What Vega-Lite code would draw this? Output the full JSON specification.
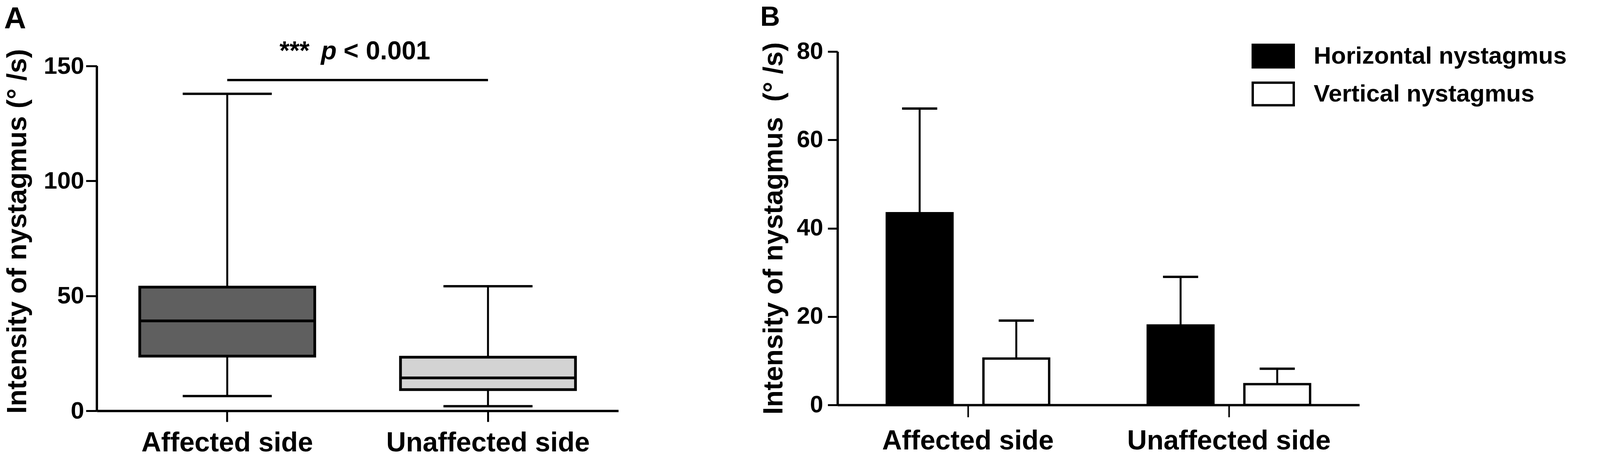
{
  "$schema": "https://vega.github.io/schema/vega-lite/v6.json",
  "description": "Intensity of nystagmus: box plot by side (A) and mean + SD bars by nystagmus type (B).",
  "background": "white",
  "padding": {"left": 10, "top": 10, "right": 0, "bottom": 0},
  "spacing": 363,
  "datasets": {
    "boxes": [
      {"side": "Affected side", "min": 6.4, "q1": 23.8, "median": 39.1, "q3": 53.8, "max": 137.9},
      {"side": "Unaffected side", "min": 2.0, "q1": 9.2, "median": 14.3, "q3": 23.3, "max": 54.2}
    ],
    "sig": [
      {"from": "Affected side", "to": "Unaffected side", "y": 143.9, "stars": "***", "p": "p", "rest": "< 0.001"}
    ],
    "bars": [
      {"side": "Affected side", "type": "Horizontal nystagmus", "mean": 43.4, "upper": 67.1},
      {"side": "Affected side", "type": "Vertical nystagmus", "mean": 10.5, "upper": 19.1},
      {"side": "Unaffected side", "type": "Horizontal nystagmus", "mean": 18.0, "upper": 29.0},
      {"side": "Unaffected side", "type": "Vertical nystagmus", "mean": 4.7, "upper": 8.2}
    ]
  },
  "resolve": {
    "scale": {"color": "independent", "fill": "independent"},
    "legend": {"color": "independent"}
  },
  "hconcat": [
    {
      "title": {"text": "A", "anchor": "start", "frame": "bounds", "fontSize": 78, "offset": 10},
      "width": 1335,
      "height": 920,
      "data": {"name": "boxes"},
      "encoding": {
        "x": {
          "field": "side",
          "type": "nominal",
          "scale": {"paddingInner": 0, "paddingOuter": 0},
          "axis": {
            "title": null,
            "labelAngle": 0,
            "labelFontSize": 70,
            "labelPadding": 20,
            "labelLimit": 1000,
            "tickSize": 28,
            "tickWidth": 5,
            "domainWidth": 6
          }
        }
      },
      "layer": [
        {
          "mark": {"type": "rule", "strokeWidth": 6, "color": "black"},
          "encoding": {
            "x": {"datum": "Affected side", "bandPosition": 0},
            "y": {"datum": 0, "type": "quantitative"},
            "y2": {"datum": 150}
          }
        },
        {
          "mark": {"type": "rule", "strokeWidth": 5, "color": "black"},
          "encoding": {
            "y": {
              "field": "min",
              "type": "quantitative",
              "scale": {"domain": [0, 156.3], "nice": false},
              "axis": {
                "title": "Intensity of nystagmus (° /s)",
                "values": [0, 50, 100, 150],
                "domain": false,
                "labelFontSize": 62,
                "labelPadding": 5,
                "tickSize": 28,
                "tickWidth": 5,
                "titleFontSize": 70,
                "titlePadding": 30
              }
            },
            "y2": {"field": "max"}
          }
        },
        {
          "mark": {"type": "bar", "size": 448, "stroke": "black", "strokeWidth": 7},
          "encoding": {
            "y": {"field": "q1", "type": "quantitative"},
            "y2": {"field": "q3"},
            "fill": {
              "field": "side",
              "type": "nominal",
              "scale": {"domain": ["Affected side", "Unaffected side"], "range": ["#5f5f5f", "#d3d3d3"]},
              "legend": null
            }
          }
        },
        {
          "mark": {"type": "tick", "size": 448, "thickness": 7, "color": "black", "opacity": 1},
          "encoding": {"y": {"field": "median", "type": "quantitative"}}
        },
        {
          "mark": {"type": "tick", "size": 228, "thickness": 6, "color": "black", "opacity": 1},
          "encoding": {"y": {"field": "min", "type": "quantitative"}}
        },
        {
          "mark": {"type": "tick", "size": 228, "thickness": 6, "color": "black", "opacity": 1},
          "encoding": {"y": {"field": "max", "type": "quantitative"}}
        },
        {
          "data": {"name": "sig"},
          "mark": {"type": "rule", "strokeWidth": 6, "color": "black"},
          "encoding": {
            "x": {"field": "from", "type": "nominal"},
            "x2": {"field": "to"},
            "y": {"field": "y", "type": "quantitative"}
          }
        },
        {
          "data": {"name": "sig"},
          "mark": {"type": "text", "align": "left", "baseline": "alphabetic", "dx": -200, "dy": -53, "fontSize": 66, "fontWeight": "bold"},
          "encoding": {
            "x": {"field": "from", "type": "nominal", "bandPosition": 1},
            "y": {"field": "y", "type": "quantitative"},
            "text": {"field": "stars"}
          }
        },
        {
          "data": {"name": "sig"},
          "mark": {"type": "text", "align": "left", "baseline": "alphabetic", "dx": -94, "dy": -53, "fontSize": 66, "fontWeight": "bold", "fontStyle": "italic"},
          "encoding": {
            "x": {"field": "from", "type": "nominal", "bandPosition": 1},
            "y": {"field": "y", "type": "quantitative"},
            "text": {"field": "p"}
          }
        },
        {
          "data": {"name": "sig"},
          "mark": {"type": "text", "align": "left", "baseline": "alphabetic", "dx": -36, "dy": -53, "fontSize": 66, "fontWeight": "bold"},
          "encoding": {
            "x": {"field": "from", "type": "nominal", "bandPosition": 1},
            "y": {"field": "y", "type": "quantitative"},
            "text": {"field": "rest"}
          }
        }
      ]
    },
    {
      "title": {"text": "B", "anchor": "start", "frame": "bounds", "fontSize": 70, "offset": 7},
      "width": 1336,
      "height": 905,
      "data": {"name": "bars"},
      "encoding": {
        "x": {
          "field": "side",
          "type": "nominal",
          "scale": {"paddingInner": 0, "paddingOuter": 0},
          "axis": {
            "title": null,
            "labelAngle": 0,
            "labelFontSize": 70,
            "labelPadding": 27,
            "labelLimit": 1000,
            "tickSize": 31,
            "tickWidth": 4,
            "domainWidth": 6
          }
        },
        "xOffset": {
          "field": "type",
          "type": "nominal",
          "scale": {"paddingInner": 0.32, "paddingOuter": 0.51}
        }
      },
      "layer": [
        {
          "mark": {"type": "bar", "stroke": "black", "strokeWidth": 6},
          "encoding": {
            "y": {
              "field": "mean",
              "type": "quantitative",
              "scale": {"domain": [0, 80], "nice": false},
              "axis": {
                "title": "Intensity of nystagmus\u00a0 (° /s)",
                "values": [0, 20, 40, 60, 80],
                "labelFontSize": 61,
                "labelPadding": 12,
                "tickSize": 25,
                "tickWidth": 5,
                "domainWidth": 6,
                "titleFontSize": 70,
                "titlePadding": 22
              }
            },
            "color": {
              "field": "type",
              "type": "nominal",
              "scale": {"domain": ["Horizontal nystagmus", "Vertical nystagmus"], "range": ["black", "white"]},
              "legend": {
                "title": null,
                "orient": "none",
                "legendX": 1060,
                "legendY": -44,
                "padding": 0,
                "rowPadding": 0,
                "symbolType": "M-1,-0.55H1V0.55H-1Z",
                "symbolSize": 11025,
                "symbolStrokeColor": "black",
                "symbolStrokeWidth": 6,
                "labelFontSize": 62,
                "labelOffset": 48,
                "labelLimit": 2000
              }
            }
          }
        },
        {
          "mark": {"type": "rule", "strokeWidth": 5, "color": "black"},
          "encoding": {
            "y": {"field": "mean", "type": "quantitative"},
            "y2": {"field": "upper"}
          }
        },
        {
          "mark": {"type": "tick", "size": 90, "thickness": 6, "color": "black", "opacity": 1},
          "encoding": {"y": {"field": "upper", "type": "quantitative"}}
        }
      ]
    }
  ],
  "config": {
    "view": {"stroke": null},
    "font": "Liberation Sans",
    "axis": {
      "grid": false,
      "labelFont": "Liberation Sans",
      "labelFontWeight": "bold",
      "labelColor": "black",
      "titleFont": "Liberation Sans",
      "titleFontWeight": "bold",
      "titleColor": "black",
      "domainColor": "black",
      "tickColor": "black"
    },
    "legend": {
      "labelFont": "Liberation Sans",
      "labelFontWeight": "bold",
      "labelColor": "black"
    },
    "title": {"font": "Liberation Sans", "fontWeight": "bold", "color": "black"},
    "text": {"font": "Liberation Sans", "fontWeight": "bold", "color": "black"}
  }
}
